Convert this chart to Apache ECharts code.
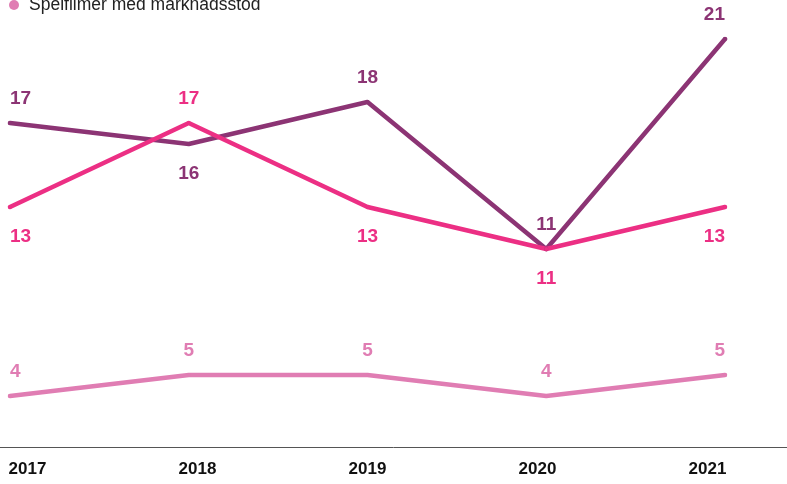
<!DOCTYPE html>
<html>
<head>
<meta charset="utf-8">
<script src="https://cdn.jsdelivr.net/npm/echarts@6/dist/echarts.min.js"></script>
<style>
  html, body { margin: 0; padding: 0; background: #fff; }
  #container { width: 787px; height: 484px; }
</style>
</head>
<body>
<div id="container"></div>
<script>
var years = ['2017', '2018', '2019', '2020', '2021'];
var darkValues = [17, 16, 18, 11, 21];
var pinkValues = [13, 17, 13, 11, 13];
var lightValues = [4, 5, 5, 4, 5];
var lightName = 'Spelfilmer med marknadsstöd';

// which side of the point each value label sits on
var darkSides = ['top', 'bottom', 'top', 'top', 'top'];
var pinkSides = ['bottom', 'top', 'bottom', 'bottom', 'bottom'];
var lightSides = ['top', 'top', 'top', 'top', 'top'];

function withLabels (values, sides) {
  return values.map(function (v, i) {
    var align = i === 0 ? 'left' : (i === values.length - 1 ? 'right' : 'center');
    return {
      value: v,
      label: {
        position: sides[i],
        align: align,
        distance: sides[i] === 'top' ? 13 : 18
      }
    };
  });
}

function lineSeries (name, values, sides, color) {
  return {
    name: name,
    type: 'line',
    xAxisIndex: 0,
    yAxisIndex: 0,
    data: withLabels(values, sides),
    symbol: 'circle',
    symbolSize: 4,
    showSymbol: true,
    lineStyle: { color: color, width: 4.5, cap: 'round', join: 'round' },
    itemStyle: { color: color },
    label: {
      show: true,
      color: color,
      fontFamily: 'Liberation Sans',
      fontWeight: 'bold',
      fontSize: 19
    },
    animation: false
  };
}

var dom = document.getElementById('container');
var myChart = echarts.init(dom);

var option = {
  backgroundColor: '#fff',
  legend: {
    data: [lightName],
    left: 4,
    top: -9,
    icon: 'circle',
    itemWidth: 20,
    itemHeight: 10,
    itemGap: 8,
    textStyle: { color: '#222', fontFamily: 'Liberation Sans', fontSize: 17.5 }
  },
  grid: [
    { left: 10, right: 62, top: 39, bottom: 4 },
    { left: 0, right: 0, top: 300, bottom: 37 },
    { left: 27.5, right: 79.5, top: 300, bottom: 37 }
  ],
  xAxis: [
    {
      gridIndex: 0, type: 'category', data: years, boundaryGap: false, show: false
    },
    {
      gridIndex: 1, type: 'category', data: years, boundaryGap: false,
      axisLine: { show: true, lineStyle: { color: '#555', width: 1 } },
      axisTick: { show: false },
      axisLabel: { show: false },
      splitLine: { show: false }
    },
    {
      gridIndex: 2, type: 'category', data: years, boundaryGap: false,
      axisLine: { show: false },
      axisTick: { show: false },
      splitLine: { show: false },
      axisLabel: {
        margin: 14,
        color: '#111',
        fontFamily: 'Liberation Sans',
        fontWeight: 'bold',
        fontSize: 17
      }
    }
  ],
  yAxis: [
    { gridIndex: 0, type: 'value', min: 0, max: 21, show: false },
    { gridIndex: 1, type: 'value', show: false },
    { gridIndex: 2, type: 'value', show: false }
  ],
  series: [
    lineSeries('Spelfilmer', darkValues, darkSides, '#8c3474'),
    lineSeries('Spelfilmer totalt', pinkValues, pinkSides, '#ec2f84'),
    lineSeries(lightName, lightValues, lightSides, '#e07db3')
  ]
};

myChart.setOption(option, true);
</script>
</body>
</html>
